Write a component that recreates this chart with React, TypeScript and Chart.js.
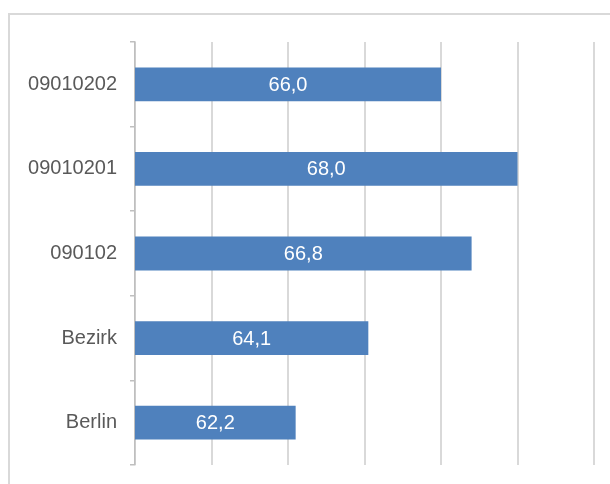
import React, { useEffect, useRef } from "react";
import { Chart, registerables } from "chart.js";

const categories = ["09010202", "09010201", "090102", "Bezirk", "Berlin"];
const values = [66.0, 68.0, 66.8, 64.1, 62.2];
const axisMin = 58;
const axisMax = 70;
const axisStep = 2;

const valueLabels = {
  id: "valueLabels",
  afterDatasetsDraw(chart: any) {
    const ctx: CanvasRenderingContext2D = chart.ctx;
    const meta = chart.getDatasetMeta(0);
    const left = chart.chartArea.left;
    ctx.save();
    ctx.font = "20px 'Liberation Sans', Arial, sans-serif";
    ctx.fillStyle = "#ffffff";
    ctx.textAlign = "center";
    ctx.textBaseline = "middle";
    for (let i = 0; i < meta.data.length; i++) {
      const bar: any = meta.data[i];
      const start = Math.max(bar.base, left);
      const txt = Number(values[i]).toFixed(1).replace(".", ",");
      ctx.fillText(txt, (bar.x + start) / 2, bar.y + 1);
    }
    ctx.restore();
  },
};

Chart.register(...registerables, valueLabels);

export default function App() {
  const ref = useRef<HTMLCanvasElement | null>(null);
  useEffect(() => {
    if (!ref.current) return;
    const chart = new Chart(ref.current, {
      type: "bar",
      data: {
        labels: categories,
        datasets: [
          {
            data: values,
            backgroundColor: "#4f81bd",
            borderWidth: 0,
            barPercentage: 0.4,
            categoryPercentage: 1,
          },
        ],
      },
      options: {
        indexAxis: "y",
        animation: false,
        responsive: false,
        devicePixelRatio: 1,
        layout: { padding: { left: 0, right: 16, top: 42, bottom: 19 } },
        plugins: { legend: { display: false }, tooltip: { enabled: false } },
        scales: {
          x: {
            min: axisMin,
            max: axisMax,
            ticks: { display: false, stepSize: axisStep },
            grid: { color: "#d9d9d9", lineWidth: 2, drawTicks: false },
            border: { display: false },
            afterFit: (s: any) => {
              s.height = 0;
              s.paddingLeft = 0;
              s.paddingRight = 0;
            },
          },
          y: {
            ticks: {
              color: "#595959",
              padding: 13,
              font: { family: "'Liberation Sans', Arial, sans-serif", size: 20 },
            },
            grid: {
              drawOnChartArea: false,
              drawTicks: true,
              tickLength: 5,
              color: "#bfbfbf",
              lineWidth: 1.5,
              offset: true,
            },
            border: { display: true, color: "#bfbfbf", width: 1.5 },
            afterFit: (s: any) => {
              s.width = 135;
              s.paddingTop = 0;
              s.paddingBottom = 0;
            },
          },
        },
      },
    });
    return () => chart.destroy();
  }, []);

  return (
    <div
      style={{
        position: "absolute",
        left: 0,
        top: 0,
        width: 610,
        height: 484,
        overflow: "hidden",
        background: "#fff",
      }}
    >
      <div
        style={{
          position: "absolute",
          left: 8,
          top: 13,
          width: 640,
          height: 520,
          border: "2px solid #d9d9d9",
        }}
      />
      <canvas
        ref={ref}
        width={610}
        height={484}
        style={{ position: "absolute", left: 0, top: 0, width: 610, height: 484 }}
      />
    </div>
  );
}
